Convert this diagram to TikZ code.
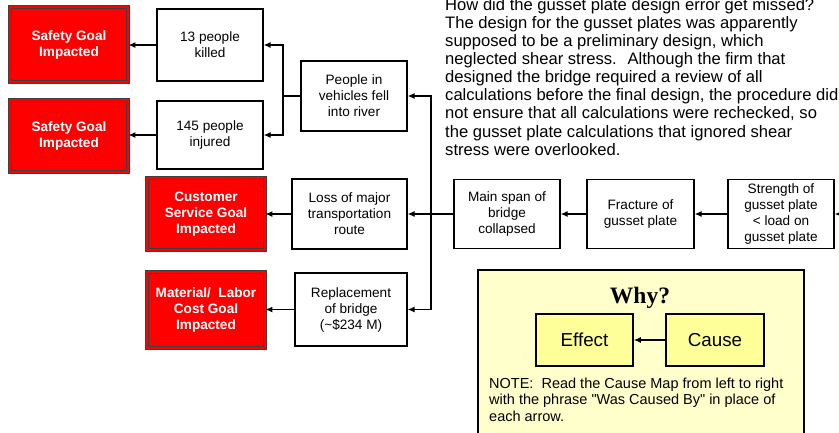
\documentclass[tikz,border=0pt]{standalone}
\usepackage{fontspec}
\setmainfont{Liberation Sans}
\newfontfamily\whyfont{Liberation Serif}
\usetikzlibrary{arrows.meta}

\definecolor{goalred}{RGB}{255,0,0}
\definecolor{notefill}{RGB}{255,255,204}
\definecolor{keyfill}{RGB}{255,255,153}

\tikzset{
  cause/.style={draw, line width=1.3pt, fill=white, align=center, inner sep=1pt,
    font=\fontsize{13.6}{16}\selectfont},
  goal/.style={draw=black!75, double=goalred, double distance=1.6pt, line width=0.9pt,
    fill=goalred, text=white, align=center, inner sep=1pt,
    font=\bfseries\fontsize{13.6}{16}\selectfont},
  keybox/.style={draw, line width=1.5pt, fill=keyfill, minimum width=97pt, minimum height=52pt,
    font=\fontsize{18.8}{22}\selectfont},
  link/.style={line width=1.2pt, -{Latex[length=7pt,width=6pt]}},
}

\begin{document}
\begin{tikzpicture}[x=1pt,y=-1pt]
  \useasboundingbox (0,0) rectangle (839,432);

  \node[goal, minimum width=118pt, minimum height=75pt] (sg1) at (69,44.5) {Safety Goal\\Impacted};
  \node[goal, minimum width=118pt, minimum height=72pt] (sg2) at (69,136) {Safety Goal\\Impacted};
  \node[goal, minimum width=118pt, minimum height=72pt] (csg) at (206,214) {Customer\\Service Goal\\Impacted};
  \node[goal, minimum width=118pt, minimum height=76pt] (mlg) at (206,310) {Material/~ Labor\\Cost Goal\\Impacted};

  \node[cause, minimum width=106pt, minimum height=72pt] (kill) at (210,45) {13 people\\killed};
  \node[cause, minimum width=106pt, minimum height=68pt] (inj) at (210,135) {145 people\\injured};
  \node[cause, minimum width=106pt, minimum height=70pt] (fell) at (354,96) {People in\\vehicles fell\\into river};
  \node[cause, minimum width=115pt, minimum height=70pt] (loss) at (349.5,214) {Loss of major\\transportation\\route};
  \node[cause, minimum width=112pt, minimum height=73pt] (repl) at (351,309.5) {Replacement\\of bridge\\(\textasciitilde\$234 M)};
  \node[cause, minimum width=106pt, minimum height=69pt] (span) at (507,214) {Main span of\\bridge\\collapsed};
  \node[cause, minimum width=107pt, minimum height=69pt] (frac) at (640.5,214) {Fracture of\\gusset plate};
  \node[cause, minimum width=106pt, minimum height=69pt] (str) at (781,214) {Strength of\\gusset plate\\\textless{} load on\\gusset plate};

  \node[anchor=north west, inner sep=0pt, align=left, font=\fontsize{16.6}{18.1}\selectfont] (why) at (445,-1.9)
    {How did the gusset plate design error get missed?\\
     The design for the gusset plates was apparently\\
     supposed to be a preliminary design, which\\
     neglected shear stress.~ Although the firm that\\
     designed the bridge required a review of all\\
     calculations before the final design, the procedure did\\
     not ensure that all calculations were rechecked, so\\
     the gusset plate calculations that ignored shear\\
     stress were overlooked.};

  \node[draw, line width=1.5pt, fill=notefill, anchor=north west, minimum width=326pt, minimum height=180pt] (key) at (477,269) {};
  \node[anchor=base, font=\whyfont\bfseries\fontsize{23.5}{28}\selectfont] (keyt) at (640,303) {Why?};
  \node[keybox] (eff) at (584.5,340) {Effect};
  \node[keybox, minimum width=98pt] (cau) at (715,340) {Cause};
  \node[anchor=north west, inner sep=0pt, align=left, font=\fontsize{14.5}{16.6}\selectfont] (note) at (489,377.6)
    {NOTE:~ Read the Cause Map from left to right\\
     with the phrase \textquotedbl Was Caused By\textquotedbl{} in place of\\
     each arrow.};

  \coordinate (fj) at (283,96);
  \coordinate (tr) at (431,214);
  \coordinate (rt) at (850,214);

  \draw[link] (kill.west) -- (kill.west -| sg1.east);
  \draw[link] (inj.west) -- (inj.west -| sg2.east);
  \draw[link] (fell.west) -- (fj) |- (kill.east);
  \draw[link] (fj) |- (inj.east);
  \draw[link] (span.west) -- (loss.east);
  \draw[link] (tr) |- (fell.east);
  \draw[link] (tr) |- (repl.east);
  \draw[link] (loss.west) -- (loss.west -| csg.east);
  \draw[link] (repl.west) -- (repl.west -| mlg.east);
  \draw[link] (frac.west) -- (span.east);
  \draw[link] (str.west) -- (frac.east);
  \draw[link] (rt) -- (str.east);
  \draw[link] (cau.west) -- (eff.east);
\end{tikzpicture}
\end{document}
